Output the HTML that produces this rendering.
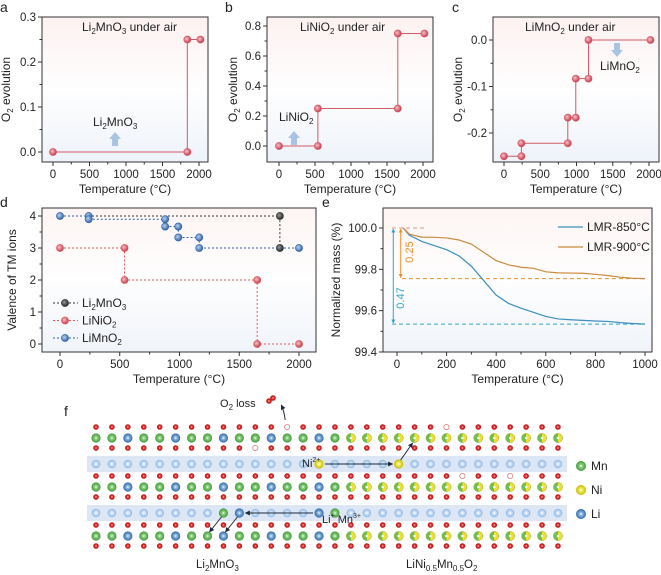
<!DOCTYPE html>
<html><head><meta charset="utf-8"><style>
body{margin:0;background:#fff}
svg{display:block;font-family:"Liberation Sans",Arial,sans-serif}
</style></head><body>
<svg id="fig" width="661" height="575" viewBox="0 0 661 575" xmlns="http://www.w3.org/2000/svg">
<defs>
<linearGradient id="bgA" x1="0" y1="0" x2="0" y2="1"><stop offset="0" stop-color="#fdf1f1"/><stop offset="0.5" stop-color="#fefefe"/><stop offset="1" stop-color="#eef3fa"/></linearGradient>
<linearGradient id="bgD" x1="0" y1="0" x2="0" y2="1"><stop offset="0" stop-color="#fdf5f3"/><stop offset="0.5" stop-color="#fefefe"/><stop offset="1" stop-color="#f0f4fa"/></linearGradient>
<radialGradient id="gRed" cx="0.4" cy="0.4" r="0.6"><stop offset="0" stop-color="#f6c0c6"/><stop offset="1" stop-color="#c9384c"/></radialGradient>
<radialGradient id="gBlue" cx="0.4" cy="0.4" r="0.6"><stop offset="0" stop-color="#b9d3f0"/><stop offset="1" stop-color="#2f63a8"/></radialGradient>
<radialGradient id="gBlack" cx="0.4" cy="0.4" r="0.6"><stop offset="0" stop-color="#999"/><stop offset="1" stop-color="#222"/></radialGradient>
<radialGradient id="aO" cx="0.5" cy="0.5" r="0.5"><stop offset="0" stop-color="#fff"/><stop offset="0.35" stop-color="#e23030"/><stop offset="1" stop-color="#b51818"/></radialGradient>
<radialGradient id="aMn" cx="0.5" cy="0.5" r="0.5"><stop offset="0" stop-color="#fff"/><stop offset="0.3" stop-color="#8fd080"/><stop offset="1" stop-color="#3f9a3a"/></radialGradient>
<radialGradient id="aNi" cx="0.5" cy="0.5" r="0.5"><stop offset="0" stop-color="#fff"/><stop offset="0.3" stop-color="#f4f060"/><stop offset="1" stop-color="#c8b800"/></radialGradient>
<radialGradient id="aLi" cx="0.5" cy="0.5" r="0.5"><stop offset="0" stop-color="#fff"/><stop offset="0.3" stop-color="#8fb8e0"/><stop offset="1" stop-color="#2e68a8"/></radialGradient>
<radialGradient id="aLiL" cx="0.5" cy="0.5" r="0.5"><stop offset="0" stop-color="#fff"/><stop offset="0.35" stop-color="#cfe2f6"/><stop offset="1" stop-color="#8ab8e4"/></radialGradient>
<linearGradient id="aMix" x1="0" y1="0" x2="1" y2="0"><stop offset="0.5" stop-color="#6cbf50"/><stop offset="0.5" stop-color="#ece030"/></linearGradient>
<marker id="arr" viewBox="0 0 10 10" refX="9" refY="5" markerWidth="5" markerHeight="5" orient="auto-start-reverse"><path d="M0,0L10,5L0,10z" fill="#1c2a3a"/></marker>
<marker id="arrB" viewBox="0 0 10 10" refX="9" refY="5" markerWidth="4" markerHeight="4" orient="auto-start-reverse"><path d="M0,0L10,5L0,10z" fill="#2ea5cf"/></marker>
<marker id="arrO" viewBox="0 0 10 10" refX="9" refY="5" markerWidth="4" markerHeight="4" orient="auto-start-reverse"><path d="M0,0L10,5L0,10z" fill="#e8902a"/></marker>
</defs>
</svg>
<script>
// ---------- data ----------
const aTemps = [0, 1840, 1840, 2020];
const aO2 = [0, 0, 0.25, 0.25];
const bTemps = [0, 540, 540, 1650, 1650, 2020];
const bO2 = [0, 0, 0.25, 0.25, 0.75, 0.75];
const cTemps = [0, 240, 240, 880, 880, 990, 990, 1165, 1165, 2020];
const cO2 = [-0.25, -0.25, -0.222, -0.222, -0.167, -0.167, -0.083, -0.083, 0, 0];
const dMnO3Temps = [0, 1840, 1840, 2000];
const dMnO3Val = [4, 4, 3, 3];
const dMnO3Marks = [false, true, true, false];
const dNiTemps = [0, 540, 540, 1650, 1650, 2000];
const dNiVal = [3, 3, 2, 2, 0, 0];
const dMnTemps = [0, 240, 240, 880, 880, 990, 990, 1165, 1165, 2000];
const dMnVal = [4, 4, 3.9, 3.9, 3.67, 3.67, 3.33, 3.33, 3, 3];
const eTemps = [25, 50, 100, 150, 200, 250, 300, 350, 400, 450, 500, 550, 600, 650, 700, 750, 800, 850, 900, 950, 1000];
const e850 = [100, 99.965, 99.935, 99.915, 99.895, 99.865, 99.815, 99.745, 99.675, 99.635, 99.612, 99.592, 99.572, 99.56, 99.556, 99.553, 99.55, 99.548, 99.542, 99.538, 99.535];
const e900 = [100, 99.97, 99.956, 99.955, 99.952, 99.942, 99.922, 99.882, 99.842, 99.822, 99.81, 99.805, 99.788, 99.783, 99.782, 99.781, 99.776, 99.77, 99.762, 99.757, 99.755];
const xTicks2000 = [0, 500, 1000, 1500, 2000];
const aYTicks = [0.0, 0.1, 0.2, 0.3];
const bYTicks = [0.0, 0.2, 0.4, 0.6, 0.8];
const cYTicks = [0.0, -0.1, -0.2];
const dYTicks = [0, 1, 2, 3, 4];
const eXTicks = [0, 200, 400, 600, 800, 1000];
const eYTicks = [99.4, 99.6, 99.8, 100.0];

const NS = "http://www.w3.org/2000/svg";
const svg = document.getElementById('fig');
function mk(tag, attrs, parent, txt) {
  const e = document.createElementNS(NS, tag);
  for (const k in attrs) e.setAttribute(k, attrs[k]);
  if (txt !== undefined) e.textContent = txt;
  (parent || svg).appendChild(e);
  return e;
}
function lin(d0, d1, p0, p1) { return v => p0 + (v - d0) * (p1 - p0) / (d1 - d0); }

function axes(g, box, sx, sy, xt, yt, yfmt, xtitle, ytitle, ytx, bg) {
  const r = mk('rect', {x: box[0], y: box[1], width: box[2] - box[0], height: box[3] - box[1], fill: bg, stroke: '#333', 'stroke-width': 1}, g);
  
  
  xt.forEach((v, i) => {
    const x = sx(v);
    mk('line', {x1: x, x2: x, y1: box[3], y2: box[3] + 4, stroke: '#333'}, g);
    if (i < xt.length - 1) { const xm = (x + sx(xt[i + 1])) / 2; mk('line', {x1: xm, x2: xm, y1: box[3], y2: box[3] + 2.5, stroke: '#333'}, g); }
    const t = mk('text', {x: x, y: box[3] + 16, 'font-size': 11.5, 'text-anchor': 'middle', fill: '#222'}, g, v);
    
    
  });
  yt.forEach((v, i) => {
    const y = sy(v);
    mk('line', {x1: box[0] - 4, x2: box[0], y1: y, y2: y, stroke: '#333'}, g);
    if (i < yt.length - 1) { const ym = (y + sy(yt[i + 1])) / 2; mk('line', {x1: box[0] - 2.5, x2: box[0], y1: ym, y2: ym, stroke: '#333'}, g); }
    const t = mk('text', {x: box[0] - 6, y: y + 4, 'font-size': 11.5, 'text-anchor': 'end', fill: '#222'}, g, yfmt(v));
    
    
  });
  const xtl = mk('text', {x: (box[0] + box[2]) / 2, y: box[3] + 31, 'font-size': 12, 'text-anchor': 'middle', fill: '#222'}, g, xtitle);
  
  
  const cy = (box[1] + box[3]) / 2;
  const ytl = mk('text', {x: ytx, y: cy, 'font-size': 12, 'text-anchor': 'middle', fill: '#222', transform: `rotate(-90 ${ytx} ${cy})`}, g);
  ytl.innerHTML = ytitle;
  
  
}
function series(g, sx, sy, xs, ys, color, grad, dash, marks, name) {
  const pts = xs.map((x, i) => sx(x) + ',' + sy(ys[i])).join(' ');
  const pl = mk('polyline', {points: pts, fill: 'none', stroke: color, 'stroke-width': 1, 'stroke-dasharray': dash || 'none'}, g);
  
  
  xs.forEach((x, i) => {
    if (marks && !marks[i]) return;
    const c = mk('circle', {cx: sx(x), cy: sy(ys[i]), r: 3.6, fill: 'url(#' + grad + ')', stroke: color, 'stroke-width': 0.6}, g);
    
    
  });
}
function label(x, y, txt, name, opts) {
  const t = mk('text', Object.assign({x: x, y: y, 'font-size': 12.5, fill: '#222'}, opts || {}));
  t.innerHTML = txt;
  
  
  return t;
}
const sub = s => `<tspan font-size="8" baseline-shift="-3">${s}</tspan>`;
const sup = s => `<tspan font-size="7" baseline-shift="5">${s}</tspan>`;
const TT = 'Temperature (°C)';
const O2T = 'O' + sub('2') + ' evolution';
function upArrow(g, x, y, dir) {
  const d = dir > 0 ? `M${x - 3},${y} h6 v-7 h3 l-6,-7 l-6,7 h3 z` : `M${x - 3},${y} h6 v7 h3 l-6,7 l-6,-7 h3 z`;
  const p = mk('path', {d: d, fill: '#a9c3e3'}, g);
  
  
}

// ---- panel a ----
{
  const g = mk('g', {});  
  const box = [42, 17, 208, 162], sx = lin(0, 2000, 53, 199), sy = lin(0, 0.3, 152, 17);
  axes(g, box, sx, sy, xTicks2000, aYTicks, v => v.toFixed(1), TT, O2T, 10, 'url(#bgA)');
  series(g, sx, sy, aTemps, aO2, '#d05a66', 'gRed', null, null, 'li2mno3-o2');
  label(82, 31, 'Li' + sub('2') + 'MnO' + sub('3') + ' under air', 'panel-a-title', {'font-size': 12});
  label(93, 126, 'Li' + sub('2') + 'MnO' + sub('3'), 'li2mno3-label', {'font-size': 12});
  upArrow(g, sx(850), 146, 1);
  label(0, 12, 'a', 'panel-label-a', {'font-size': 14});
}
// ---- panel b ----
{
  const g = mk('g', {});  
  const box = [267, 17, 433, 162], sx = lin(0, 2000, 279, 423), sy = lin(0, 0.8, 146, 26);
  axes(g, box, sx, sy, xTicks2000, bYTicks, v => v.toFixed(1), TT, O2T, 237, 'url(#bgA)');
  series(g, sx, sy, bTemps, bO2, '#d05a66', 'gRed', null, null, 'linio2-o2');
  label(300, 31, 'LiNiO' + sub('2') + ' under air', 'panel-b-title', {'font-size': 12});
  label(279, 121, 'LiNiO' + sub('2'), 'linio2-label', {'font-size': 12});
  upArrow(g, 294, 145, 1);
  label(225, 12, 'b', 'panel-label-b', {'font-size': 14});
}
// ---- panel c ----
{
  const g = mk('g', {});  
  const box = [493, 17, 659, 162], sx = lin(0, 2000, 504, 649), sy = lin(0, -0.2, 40, 133);
  axes(g, box, sx, sy, xTicks2000, cYTicks, v => v.toFixed(1), TT, O2T, 462, 'url(#bgA)');
  series(g, sx, sy, cTemps, cO2, '#d05a66', 'gRed', null, null, 'limno2-o2');
  label(525, 31, 'LiMnO' + sub('2') + ' under air', 'panel-c-title', {'font-size': 12});
  label(600, 70, 'LiMnO' + sub('2'), 'limno2-label', {'font-size': 12});
  upArrow(g, 617, 43, -1);
  label(452, 12, 'c', 'panel-label-c', {'font-size': 14});
}
// ---- panel d ----
{
  const g = mk('g', {});  
  const box = [42, 208, 316, 352], sx = lin(0, 2000, 60, 299), sy = lin(0, 4, 344, 216);
  axes(g, box, sx, sy, xTicks2000, dYTicks, v => v, TT, 'Valence of TM ions', 16, 'url(#bgD)');
  series(g, sx, sy, dMnO3Temps, dMnO3Val, '#333', 'gBlack', '2,2', dMnO3Marks, 'li2mno3-valence');
  series(g, sx, sy, dNiTemps, dNiVal, '#e05a5a', 'gRed', '2,2', null, 'linio2-valence');
  series(g, sx, sy, dMnTemps, dMnVal, '#2f63a8', 'gBlue', '2,2', null, 'limno2-valence');
  const leg = [['#333', 'gBlack', 'Li' + sub('2') + 'MnO' + sub('3')], ['#e05a5a', 'gRed', 'LiNiO' + sub('2')], ['#2f63a8', 'gBlue', 'LiMnO' + sub('2')]];
  leg.forEach((l, i) => {
    const y = 303 + i * 17.5;
    const lg = mk('g', {}, g);  
    mk('line', {x1: 53, x2: 78, y1: y, y2: y, stroke: l[0], 'stroke-dasharray': '2,2'}, lg);
    mk('circle', {cx: 65, cy: y, r: 3.6, fill: 'url(#' + l[1] + ')', stroke: l[0], 'stroke-width': 0.6}, lg);
    const t = mk('text', {x: 82, y: y + 4, 'font-size': 12, fill: '#222'}, lg); t.innerHTML = l[2];
  });
  label(0, 207, 'd', 'panel-label-d', {'font-size': 14});
}
// ---- panel e ----
{
  const g = mk('g', {});  
  const box = [383, 208, 652, 352], sx = lin(0, 1000, 397, 645), sy = lin(99.4, 100, 352, 228);
  axes(g, box, sx, sy, eXTicks, eYTicks, v => v.toFixed(1), TT, 'Normalized mass (%)', 340, 'url(#bgD)');
  mk('line', {x1: sx(-20), x2: sx(110), y1: sy(100), y2: sy(100), stroke: '#d99a8a', 'stroke-dasharray': '4,3'}, g);
  mk('line', {x1: sx(20), x2: sx(1000), y1: sy(99.755), y2: sy(99.755), stroke: '#e8902a', 'stroke-dasharray': '4,3'}, g);
  mk('line', {x1: sx(-20), x2: sx(1000), y1: sy(99.535), y2: sy(99.535), stroke: '#2ea5cf', 'stroke-dasharray': '4,3'}, g);
  const p850 = eTemps.map((t, i) => sx(t) + ',' + sy(e850[i])).join(' ');
  const l1 = mk('polyline', {points: p850, fill: 'none', stroke: '#3d8fbf', 'stroke-width': 1.2}, g);
   
  const p900 = eTemps.map((t, i) => sx(t) + ',' + sy(e900[i])).join(' ');
  const l2 = mk('polyline', {points: p900, fill: 'none', stroke: '#c98a3e', 'stroke-width': 1.2}, g);
   
  mk('line', {x1: sx(-15), x2: sx(-15), y1: sy(99.535) - 1, y2: sy(100) + 1, stroke: '#2ea5cf', 'marker-start': 'url(#arrB)', 'marker-end': 'url(#arrB)'}, g);
  mk('line', {x1: sx(15), x2: sx(15), y1: sy(99.755) - 1, y2: sy(100) + 1, stroke: '#e8902a', 'marker-start': 'url(#arrO)', 'marker-end': 'url(#arrO)'}, g);
  label(404, 298, '0.47', 'mass-loss-850-label', {'font-size': 11, fill: '#2ea5cf', transform: 'rotate(-90 404 298)', 'text-anchor': 'middle'});
  label(413, 252, '0.25', 'mass-loss-900-label', {'font-size': 11, fill: '#e8902a', transform: 'rotate(-90 413 252)', 'text-anchor': 'middle'});
  const lg1 = mk('g', {}, g);  
  mk('line', {x1: 558, x2: 583, y1: 227, y2: 227, stroke: '#3d8fbf', 'stroke-width': 1.2}, lg1);
  mk('text', {x: 587, y: 231, 'font-size': 12, fill: '#222'}, lg1, 'LMR-850°C');
  const lg2 = mk('g', {}, g);  
  mk('line', {x1: 558, x2: 583, y1: 247, y2: 247, stroke: '#c98a3e', 'stroke-width': 1.2}, lg2);
  mk('text', {x: 587, y: 251, 'font-size': 12, fill: '#222'}, lg2, 'LMR-900°C');
  label(322, 207, 'e', 'panel-label-e', {'font-size': 14});
}
// ---- panel f (structure) ----
{
  const g = mk('g', {});  
  label(64, 416, 'f', 'panel-label-f', {'font-size': 14});
  const N = 30, x0 = 96, dx = 15.93;
  const colX = i => x0 + i * dx;
  const tmRows = [438, 487, 536];
  const bands = [464, 513];
  const hollow = {'427': [12, 22], '448': [10], '476': [23, 26], '526': [24], '547': [19]};
  bands.forEach(y => {
    const b = mk('rect', {x: 87, y: y - 8, width: 480, height: 16, fill: '#dde6f4'}, g);
     
  });
  const special = {'464': {14: 'aNi', 19: 'aNi'}, '513': {8: 'aMn', 9: 'aLi', 14: 'aLi', 15: 'aMn'}};
  bands.forEach(y => {
    for (let i = 0; i < N; i++) {
      const s = special[y] && special[y][i];
      mk('circle', {cx: colX(i), cy: y, r: s ? 4.6 : 4.3, fill: 'url(#' + (s || 'aLiL') + ')'}, g);
    }
  });
  tmRows.forEach(y => {
    [y - 11, y + 10].forEach(oy => {
      const h = hollow[String(oy)] || [];
      for (let i = 0; i < N; i++) {
        if (h.includes(i)) mk('circle', {cx: colX(i), cy: oy, r: 2.6, fill: '#fff', stroke: '#d88080', 'stroke-width': 0.8}, g);
        else mk('circle', {cx: colX(i), cy: oy, r: 2.8, fill: 'url(#aO)'}, g);
      }
    });
    for (let i = 0; i < N; i++) {
      let f;
      if (i <= 15) f = (i % 3 === 2) ? 'url(#aLi)' : 'url(#aMn)';
      else f = 'url(#aMix)';
      mk('circle', {cx: colX(i), cy: y, r: 4.6, fill: f, stroke: i > 15 ? '#9aa830' : 'none', 'stroke-width': 0.5}, g);
      if (i > 15) mk('circle', {cx: colX(i), cy: y, r: 1.3, fill: '#fff'}, g);
    }
  });
  mk('line', {x1: colX(14) + 6, y1: 464, x2: colX(19) - 6, y2: 464, stroke: '#1c2a3a', 'marker-end': 'url(#arr)'}, g);
  mk('line', {x1: colX(19) + 2, y1: 460, x2: colX(20) - 2, y2: 443, stroke: '#1c2a3a', 'marker-end': 'url(#arr)'}, g);
  mk('line', {x1: colX(14) - 6, y1: 513, x2: colX(9) + 6, y2: 513, stroke: '#1c2a3a', 'marker-end': 'url(#arr)'}, g);
  mk('line', {x1: colX(8) - 2, y1: 517, x2: colX(7) + 2, y2: 532, stroke: '#1c2a3a', 'marker-end': 'url(#arr)'}, g);
  mk('line', {x1: colX(9) - 2, y1: 517, x2: colX(8) + 2, y2: 532, stroke: '#1c2a3a', 'marker-end': 'url(#arr)'}, g);
  mk('path', {d: `M${colX(12) - 2},420 Q${colX(12) - 3},411 ${colX(11) + 10},405`, fill: 'none', stroke: '#1c2a3a', 'marker-end': 'url(#arr)'}, g);
  mk('circle', {cx: 269, cy: 401, r: 2.8, fill: 'url(#aO)'}, g);
  mk('circle', {cx: 273, cy: 398, r: 2.8, fill: 'url(#aO)'}, g);
  label(220, 407, 'O' + sub('2') + ' loss', 'o2-loss-label', {'font-size': 11});
  label(302, 467, 'Ni' + sup('2+'), 'ni2-label', {'font-size': 11});
  label(322, 523, 'Li' + sup('+') + ' Mn' + sup('3+'), 'li-mn3-label', {'font-size': 11});
  label(196, 568, 'Li' + sub('2') + 'MnO' + sub('3'), 'li2mno3-structure-label', {'font-size': 11.5});
  label(406, 568, 'LiNi' + sub('0.5') + 'Mn' + sub('0.5') + 'O' + sub('2'), 'lni-structure-label', {'font-size': 11.5});
  [['aMn', 'Mn', 466], ['aNi', 'Ni', 490], ['aLi', 'Li', 514]].forEach(l => {
    const lg = mk('g', {}, g);  
    mk('circle', {cx: 581, cy: l[2], r: 5, fill: 'url(#' + l[0] + ')'}, lg);
    mk('text', {x: 591, y: l[2] + 4, 'font-size': 12, fill: '#222'}, lg, l[1]);
  });
}
</script>
</body></html>
